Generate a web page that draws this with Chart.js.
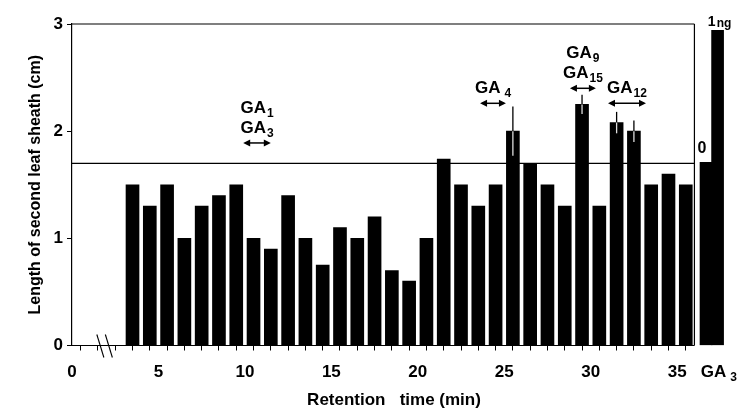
<!DOCTYPE html>
<html><head><meta charset="utf-8">
<script src="https://cdn.jsdelivr.net/npm/chart.js@4/dist/chart.umd.min.js"></script>
<style>html,body{margin:0;padding:0;background:#fff}#wrap{width:738px;height:411px}</style>
</head><body><div id="wrap"><canvas id="c" width="738" height="411"></canvas></div>
<script>
// ---- data ----
const retentionTimes = [3.5,4.5,5.5,6.5,7.5,8.5,9.5,10.5,11.5,12.5,13.5,14.5,15.5,16.5,17.5,18.5,19.5,20.5,21.5,22.5,23.5,24.5,25.5,26.5,27.5,28.5,29.5,30.5,31.5,32.5,33.5,34.5,35.5];
const sheathLength   = [1.5,1.3,1.5,1.0,1.3,1.4,1.5,1.0,0.9,1.4,1.0,0.75,1.1,1.0,1.2,0.7,0.6,1.0,1.74,1.5,1.3,1.5,2.0,1.7,1.5,1.3,2.25,1.3,2.08,2.0,1.5,1.6,1.5];
const sheathError    = [0,0,0,0,0,0,0,0,0,0,0,0,0,0,0,0,0,0,0,0,0,0,0.23,0,0,0,0.09,0,0.1,0.1,0,0,0];
const ga3Doses    = ['0', '1'];
const ga3DoseUnit = ['', 'ng'];
const ga3Response = [1.71, 2.94];
const controlLevel = 1.70;
const xTickLabels = [0,5,10,15,20,25,30,35];
const yTickLabels = [0,1,2,3];
const stdNames  = [[['GA','1'],['GA','3']], [['GA','4']], [['GA','9'],['GA','15']], [['GA','12']]];
const stdFrom   = [9.9, 23.6, 28.8, 31.0];
const stdTo     = [11.5, 25.1, 30.3, 33.2];
const stdLevel  = [1.89, 2.26, 2.40, 2.26];
const xTitle = 'Retention   time (min)';
const yTitle = 'Length of second leaf sheath (cm)';

// ---- layout / style ----
const FONT = "'Liberation Sans', Arial, Helvetica, sans-serif";
const X_MAX = 38, FRAME_END = 36;

function seg(ctx, x1, y1, x2, y2) { ctx.beginPath(); ctx.moveTo(x1, y1); ctx.lineTo(x2, y2); ctx.stroke(); }
function subText(ctx, main, sub, cx, baseY, mainSize, subSize, gap) {
  ctx.font = 'bold ' + mainSize + 'px ' + FONT;
  const wm = ctx.measureText(main).width;
  ctx.font = 'bold ' + subSize + 'px ' + FONT;
  const ws = ctx.measureText(sub).width;
  const left = cx - (wm + gap + ws) / 2;
  ctx.textAlign = 'left'; ctx.textBaseline = 'alphabetic';
  ctx.font = 'bold ' + mainSize + 'px ' + FONT;
  ctx.fillText(main, left, baseY);
  ctx.font = 'bold ' + subSize + 'px ' + FONT;
  ctx.fillText(sub, left + wm + gap, baseY + 4);
}
function arrow(ctx, x1, x2, yy) {
  const hl = 7, hw = 3.5;
  ctx.lineWidth = 1.5;
  seg(ctx, x1 + 2, yy, x2 - 2, yy);
  ctx.beginPath(); ctx.moveTo(x1, yy); ctx.lineTo(x1 + hl, yy - hw); ctx.lineTo(x1 + hl, yy + hw); ctx.closePath(); ctx.fill();
  ctx.beginPath(); ctx.moveTo(x2, yy); ctx.lineTo(x2 - hl, yy - hw); ctx.lineTo(x2 - hl, yy + hw); ctx.closePath(); ctx.fill();
}

const decor = {
  id: 'decor',
  beforeDatasetsDraw(chart) {
    const { ctx, scales: { x, y } } = chart;
    ctx.save();
    ctx.strokeStyle = '#000'; ctx.lineWidth = 1.2;
    const yc = y.getPixelForValue(controlLevel);
    seg(ctx, x.getPixelForValue(0), yc, x.getPixelForValue(FRAME_END), yc);
    ctx.restore();
  },
  afterDatasetsDraw(chart) {
    const { ctx, scales: { x, y } } = chart;
    ctx.save();
    ctx.strokeStyle = '#000'; ctx.fillStyle = '#000'; ctx.lineWidth = 1.2;
    const x0 = x.getPixelForValue(0), xe = x.getPixelForValue(FRAME_END);
    const yTop = y.getPixelForValue(3), y0 = y.getPixelForValue(0);
    // frame
    seg(ctx, x0, yTop, xe, yTop);
    seg(ctx, xe, yTop, xe, y0);
    seg(ctx, x0, y0, xe, y0);
    // axis break
    const xb = x.getPixelForValue(1.9);
    ctx.lineWidth = 1.1;
    seg(ctx, xb - 8, y0 - 11, xb - 1, y0 + 12);
    seg(ctx, xb + 0.5, y0 - 11, xb + 7.5, y0 + 12);
    // error bars
    ctx.lineWidth = 1.3;
    retentionTimes.forEach((t, i) => {
      const e = sheathError[i];
      if (!e) return;
      const px = x.getPixelForValue(t);
      const yv = y.getPixelForValue(sheathLength[i]);
      ctx.strokeStyle = '#000';
      seg(ctx, px, y.getPixelForValue(sheathLength[i] + e), px, yv);
      ctx.strokeStyle = '#ddd';
      seg(ctx, px, yv, px, y.getPixelForValue(sheathLength[i] - e));
    });
    ctx.strokeStyle = '#000';
    // standard arrows & labels
    stdNames.forEach((names, k) => {
      const a = x.getPixelForValue(stdFrom[k]), b = x.getPixelForValue(stdTo[k]);
      const yy = y.getPixelForValue(stdLevel[k]);
      arrow(ctx, a, b, yy);
      const cx = (a + b) / 2;
      for (let j = names.length - 1, n = 0; j >= 0; j--, n++) {
        subText(ctx, names[j][0], names[j][1], cx, yy - 10 - n * 20, 17, 12, names[j][1] === '4' ? 4 : 1);
      }
    });
    // GA3 dose labels
    const meta = chart.getDatasetMeta(1);
    meta.data.forEach((bar, i) => {
      const p = bar.getProps(['x', 'y'], true);
      if (ga3DoseUnit[i]) {
        ctx.font = 'bold 14px ' + FONT;
        const w1 = ctx.measureText(ga3Doses[i]).width;
        ctx.font = 'bold 12px ' + FONT;
        const w2 = ctx.measureText(ga3DoseUnit[i]).width;
        const left = p.x + 2 - (w1 + w2 + 1) / 2;
        ctx.textAlign = 'left'; ctx.textBaseline = 'alphabetic';
        ctx.font = 'bold 14px ' + FONT; ctx.fillText(ga3Doses[i], left, p.y - 4);
        ctx.font = 'bold 12px ' + FONT; ctx.fillText(ga3DoseUnit[i], left + w1 + 1, p.y - 3);
      } else {
        ctx.font = 'bold 16px ' + FONT;
        ctx.textAlign = 'center'; ctx.textBaseline = 'alphabetic';
        ctx.fillText(ga3Doses[i], p.x - 4, p.y - 9);
      }
    });
    // GA3 x label
    const gx = (meta.data[0].getProps(['x'], true).x + meta.data[1].getProps(['x'], true).x) / 2;
    subText(ctx, 'GA', '3', gx + 7, y0 + 31, 17, 12, 4);
    // x-axis title
    ctx.font = 'bold 17px ' + FONT;
    ctx.textAlign = 'center'; ctx.textBaseline = 'middle';
    ctx.fillText(xTitle, 394, 400);
    ctx.restore();
  }
};

new Chart(document.getElementById('c'), {
  type: 'bar',
  data: {
    datasets: [
      { data: retentionTimes.map((t, i) => ({ x: t, y: sheathLength[i] })), backgroundColor: '#000', borderWidth: 0, barThickness: 13, grouped: false },
      { data: ga3Response.map((v, i) => ({ x: FRAME_END + 0.67 * (i + 1), y: v })), backgroundColor: '#000', borderWidth: 0, barThickness: 12, grouped: false }
    ]
  },
  options: {
    responsive: false, animation: false, events: [],
    layout: { padding: { top: 24, right: 9, bottom: 0, left: 0 } },
    plugins: { legend: { display: false }, tooltip: { enabled: false } },
    scales: {
      x: {
        type: 'linear', min: 0, max: X_MAX, offset: false,
        grid: { display: true, drawOnChartArea: false, drawTicks: true, tickLength: 5, lineWidth: 1,
                color: c => (c.tick && c.tick.value <= FRAME_END) ? '#000' : 'rgba(0,0,0,0)' },
        border: { display: false },
        ticks: { stepSize: 1, autoSkip: false, maxRotation: 0, minRotation: 0, color: '#000', padding: 12,
                 font: { family: FONT, size: 17, weight: 'bold' },
                 callback: v => xTickLabels.includes(v) ? String(v) : '' },
        title: { display: false },
        afterFit: s => { s.height = 65.5; s.paddingLeft = 0; s.paddingRight = 0; }
      },
      y: {
        min: 0, max: 3,
        grid: { display: true, drawOnChartArea: false, drawTicks: true, tickLength: 5, color: '#000' },
        border: { display: true, color: '#000', width: 1.2 },
        ticks: { stepSize: 1, color: '#000', padding: 4, font: { family: FONT, size: 17, weight: 'bold' },
                 callback: v => yTickLabels.includes(v) ? String(v) : '' },
        title: { display: true, text: yTitle, color: '#000', font: { family: FONT, size: 16, weight: 'bold' }, padding: { top: 26, bottom: 0 } },
        afterFit: s => { s.width = 72; }
      }
    }
  },
  plugins: [decor]
});
</script></body></html>
